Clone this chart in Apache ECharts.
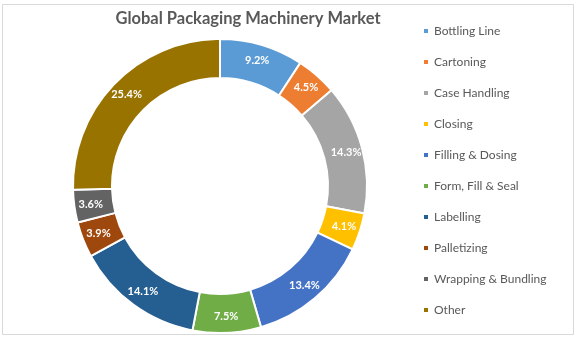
<!DOCTYPE html>
<html>
<head>
<meta charset="utf-8">
<script src="https://cdn.jsdelivr.net/npm/echarts@6/dist/echarts.min.js"></script>
<style>
  html, body { margin: 0; padding: 0; background: #fff; }
  #chart { width: 583px; height: 348px; }
</style>
</head>
<body>
<div id="chart"></div>
<script>
// Market share by machinery segment (percent)
const segments = ['Bottling Line', 'Cartoning', 'Case Handling', 'Closing', 'Filling & Dosing',
  'Form, Fill & Seal', 'Labelling', 'Palletizing', 'Wrapping & Bundling', 'Other'];
const shares = [9.2, 4.5, 14.3, 4.1, 13.4, 7.5, 14.1, 3.9, 3.6, 25.4];
const palette = ['#5B9BD5', '#ED7D31', '#A5A5A5', '#FFC000', '#4472C4',
  '#70AD47', '#255E91', '#9E480E', '#636363', '#997300'];

const chart = echarts.init(document.getElementById('chart'));
chart.setOption({
  animation: false,
  color: palette,
  title: {
    text: 'Global Packaging Machinery Market',
    left: 243,
    textAlign: 'center',
    top: 5,
    textStyle: { fontFamily: 'Lato', fontSize: 16.5, fontWeight: 'bold', color: '#595959' }
  },
  graphic: [{
    type: 'rect',
    shape: { x: 2.5, y: 4.5, width: 571, height: 330 },
    style: { fill: 'none', stroke: '#d9d9d9', lineWidth: 1 },
    silent: true
  }],
  legend: {
    orient: 'vertical',
    left: 417,
    top: 19,
    itemWidth: 6,
    itemHeight: 6,
    itemGap: 17,
    icon: 'rect',
    textStyle: { fontFamily: 'Lato', fontSize: 12, color: '#595959', lineHeight: 14 }
  },
  series: [{
    type: 'pie',
    center: [220, 186],
    radius: [108, 147],
    startAngle: 90,
    clockwise: true,
    itemStyle: { borderColor: '#fff', borderWidth: 2 },
    label: {
      show: true,
      position: 'inside',
      formatter: p => p.value.toFixed(1) + '%',
      fontFamily: 'Lato',
      fontSize: 11,
      fontWeight: 'bold',
      color: '#fff'
    },
    labelLine: { show: false },
    data: segments.map((n, i) => ({ name: n, value: shares[i] }))
  }]
});
</script>
</body>
</html>
